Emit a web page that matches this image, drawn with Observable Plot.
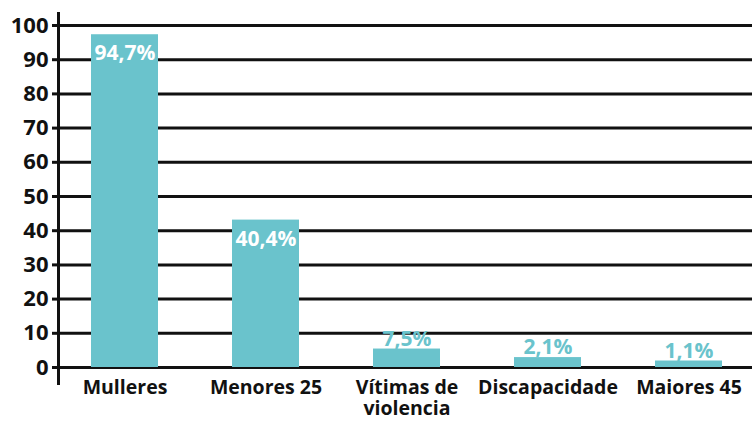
<!DOCTYPE html>
<html>
<head>
<meta charset="utf-8">
<script src="https://cdn.jsdelivr.net/npm/d3@7"></script>
<script src="https://cdn.jsdelivr.net/npm/@observablehq/plot@0.6"></script>
<style>
  html, body { margin: 0; padding: 0; background: #fff; }
  #chart svg { display: block; }
</style>
</head>
<body>
<div id="chart"></div>
<script>
const categories = ["Mulleres", "Menores 25", "Vítimas de\nviolencia", "Discapacidade", "Maiores 45"];
const barValues = [97.3, 43.1, 5.4, 2.9, 1.9];
const valueLabels = ["94,7%", "40,4%", "7,5%", "2,1%", "1,1%"];
const labelInside = [true, true, false, false, false];
const yTicks = [0, 10, 20, 30, 40, 50, 60, 70, 80, 90, 100];

const data = categories.map((c, i) => ({
  cat: c, value: barValues[i], label: valueLabels[i], inside: labelInside[i]
}));

const teal = "#6ac3cc";
const font = "'Open Sans', sans-serif";

const chart = Plot.plot({
  width: 755,
  height: 422,
  marginTop: 25,
  marginBottom: 55,
  marginLeft: 58,
  marginRight: 3,
  style: { fontFamily: font, background: "#fff", overflow: "visible" },
  x: { type: "band", domain: categories, range: [89, 723], paddingInner: 0.527, paddingOuter: 0, label: null },
  y: { domain: [0, 100], label: null },
  marks: [
    Plot.gridY(yTicks, { stroke: "#111", strokeOpacity: 1, strokeWidth: 3 }),
    Plot.barY(data, { x: "cat", y: "value", fill: teal }),
    Plot.frame({ anchor: "left", stroke: "#111", strokeWidth: 3, insetTop: -12, insetBottom: -16 }),
    Plot.axisY(yTicks, {
      tickSize: 6, tickPadding: 4, stroke: "#111", strokeWidth: 3,
      fontSize: 22, fontWeight: "bold", fill: "#111", label: null
    }),
    Plot.axisX({
      tickSize: 0, tickPadding: 12, fontSize: 19.5, fontWeight: "bold", fill: "#111",
      lineAnchor: "top", lineHeight: 1.05, label: null
    }),
    Plot.text(data.filter(d => d.inside), {
      x: "cat", y: "value", text: "label", dy: 19,
      fill: "white", fontSize: 21, fontWeight: "bold"
    }),
    Plot.text(data.filter(d => !d.inside), {
      x: "cat", y: "value", text: "label", dy: -10,
      fill: teal, fontSize: 21, fontWeight: "bold"
    })
  ]
});
document.getElementById("chart").appendChild(chart);
</script>
</body>
</html>
